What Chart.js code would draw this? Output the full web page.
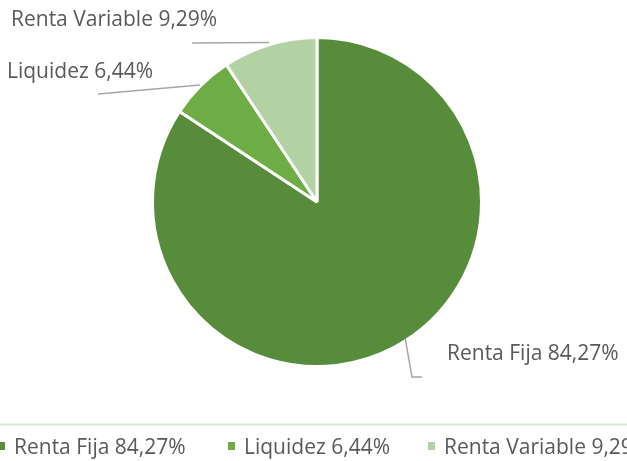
<!DOCTYPE html>
<html><head><meta charset="utf-8">
<script src="https://cdn.jsdelivr.net/npm/chart.js@4/dist/chart.umd.min.js"></script>
<style>html,body{margin:0;padding:0;background:#fff;overflow:hidden}#wrap{width:627px;height:461px;position:relative}</style>
</head><body><div id="wrap"><canvas id="c" width="627" height="461"></canvas></div>
<script>
const categories = ["Renta Fija", "Liquidez", "Renta Variable"];
const values = [84.27, 6.44, 9.29];
const labelsText = ["Renta Fija 84,27%", "Liquidez 6,44%", "Renta Variable 9,29%"];
const colors = ["#578C3A", "#6EAD46", "#B3D2A4"];

const FONT = '21px "Open Sans", sans-serif';
const TEXT = '#595959';

const annot = {
  id: 'annot',
  afterDatasetsDraw(chart) {
    const ctx = chart.ctx;
    const meta = chart.getDatasetMeta(0);
    ctx.save();
    ctx.strokeStyle = '#A6A6A6';
    ctx.lineWidth = 1.5;
    const pt = (i, frac, r) => {
      const a = meta.data[i];
      const ang = a.startAngle + (a.endAngle - a.startAngle) * frac;
      return [a.x + Math.cos(ang) * r, a.y + Math.sin(ang) * r];
    };
    const R = meta.data[0].outerRadius;
    let p = pt(2, 0.5, R + 2);
    ctx.beginPath(); ctx.moveTo(p[0], p[1]); ctx.lineTo(192, 43); ctx.stroke();
    p = pt(1, 0.5, R + 1);
    ctx.beginPath(); ctx.moveTo(p[0], p[1]); ctx.lineTo(98, 94); ctx.stroke();
    p = pt(0, 0.485, R - 2);
    ctx.beginPath(); ctx.moveTo(p[0], p[1]); ctx.lineTo(412, 377); ctx.lineTo(422, 377); ctx.stroke();

    ctx.font = FONT;
    ctx.fillStyle = TEXT;
    ctx.textBaseline = 'middle';
    ctx.textAlign = 'left';
    ctx.fillText(labelsText[2], 11, 20);
    ctx.fillText(labelsText[1], 7, 72);
    ctx.fillText(labelsText[0], 447, 354);

    ctx.strokeStyle = '#DCE9D3';
    ctx.lineWidth = 2;
    ctx.beginPath(); ctx.moveTo(0, 424.5); ctx.lineTo(627, 424.5); ctx.stroke();

    const mx = [-2, 228, 428];
    for (let i = 0; i < categories.length; i++) {
      ctx.fillStyle = colors[i];
      ctx.fillRect(mx[i], 442, 7, 8);
      ctx.fillStyle = TEXT;
      ctx.fillText(labelsText[i], mx[i] + 16, 448);
    }
    ctx.restore();
  }
};

new Chart(document.getElementById('c'), {
  type: 'pie',
  data: {
    labels: categories,
    datasets: [{
      data: values,
      backgroundColor: colors,
      borderColor: '#ffffff',
      borderWidth: 3
    }]
  },
  options: {
    responsive: false,
    animation: false,
    layout: { padding: { left: 151, right: 144, top: 36, bottom: 93 } },
    plugins: { legend: { display: false }, tooltip: { enabled: false } }
  },
  plugins: [annot]
});
</script></body></html>
